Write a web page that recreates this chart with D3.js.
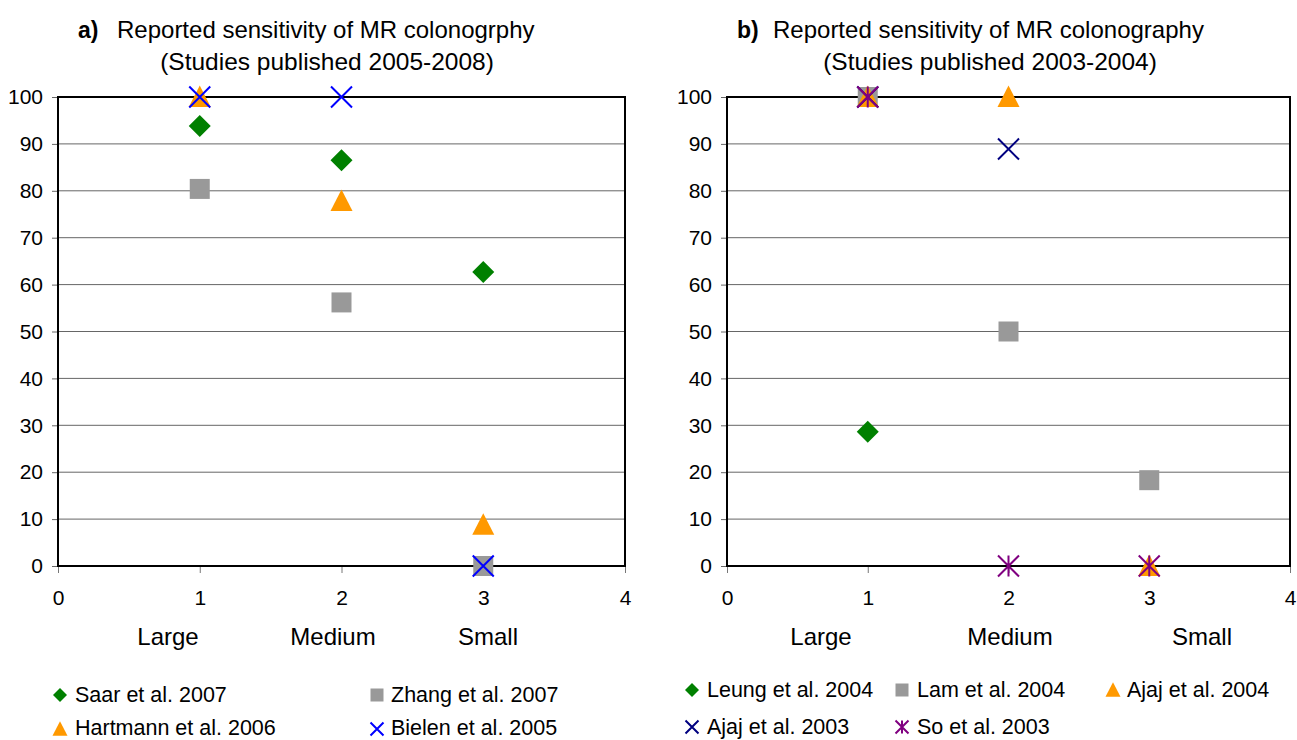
<!DOCTYPE html>
<html>
<head>
<meta charset="utf-8">
<script src="https://cdn.jsdelivr.net/npm/d3@7"></script>
<style>
  body { margin: 0; background: #fff; }
  svg { display: block; font-family: "Liberation Sans", Arial, sans-serif; }
</style>
</head>
<body>
<svg id="chart" width="1297" height="740"></svg>
<script>
// Polyp size categories on the x axis (positions 1..3)
const sizePositions = [1, 2, 3];
const sizeLabels = ["Large", "Medium", "Small"];
const xTicks = [0, 1, 2, 3, 4];
const yTicks = [0, 10, 20, 30, 40, 50, 60, 70, 80, 90, 100];

// Panel a: studies published 2005-2008 (sensitivity %, Large / Medium / Small)
const saar2007 = [93.8, 86.5, 62.7];
const zhang2007 = [80.4, 56.2, 0];
const hartmann2006 = [100, 77.8, 8.8];
const bielen2005 = [100, 100, 0];

// Panel b: studies published 2003-2004
const leung2004 = [28.6, null, null];
const lam2004 = [100, 50, 18.3];
const ajaj2004 = [100, 100, 0];
const ajaj2003 = [100, 88.9, null];
const so2003 = [100, 0, 0];

const panels = [
  {
    tag: "a)",
    title: "Reported sensitivity of MR colonogrphy",
    subtitle: "(Studies published 2005-2008)",
    left: 58, right: 625,
    tagX: 78, titleX: 117, subX: 327,
    catX: [168, 333, 488],
    series: [
      { name: "Saar et al. 2007", values: saar2007, shape: "diamond", color: "#008000" },
      { name: "Zhang et al. 2007", values: zhang2007, shape: "square", color: "#999999" },
      { name: "Hartmann et al. 2006", values: hartmann2006, shape: "triangle", color: "#FF9900" },
      { name: "Bielen et al. 2005", values: bielen2005, shape: "x", color: "#0000FF" }
    ],
    legend: [[60, 695, 75, 702], [377, 695, 391, 702], [60, 729, 75, 735], [377, 729, 391, 735]]
  },
  {
    tag: "b)",
    title: "Reported sensitivity of MR colonography",
    subtitle: "(Studies published 2003-2004)",
    left: 727, right: 1290,
    tagX: 737, titleX: 773, subX: 990,
    catX: [821, 1010, 1202],
    series: [
      { name: "Leung et al. 2004", values: leung2004, shape: "diamond", color: "#008000" },
      { name: "Lam et al. 2004", values: lam2004, shape: "square", color: "#999999" },
      { name: "Ajaj et al. 2004", values: ajaj2004, shape: "triangle", color: "#FF9900" },
      { name: "Ajaj et al. 2003", values: ajaj2003, shape: "x", color: "#000080" },
      { name: "So et al. 2003", values: so2003, shape: "asterisk", color: "#800080" }
    ],
    legend: [[692, 690, 707, 697], [902, 690, 917, 697], [1113, 690, 1127, 697],
             [692, 727, 707, 734], [902, 727, 917, 734]]
  }
];

const plotTop = 97, plotBottom = 566;
const svg = d3.select("#chart");

// Marker path builders, r = half-width
function markerPath(shape, r) {
  switch (shape) {
    case "square":
      return `M${-r},${-r}H${r}V${r}H${-r}Z`;
    case "diamond":
      return `M0,${-r}L${r},0L0,${r}L${-r},0Z`;
    case "triangle":
      return `M0,${-r * 1.05}L${r},${r * 0.9}L${-r},${r * 0.9}Z`;
    case "x":
      return `M${-r},${-r}L${r},${r}M${r},${-r}L${-r},${r}`;
    case "asterisk":
      return `M${-r},${-r}L${r},${r}M${r},${-r}L${-r},${r}M0,${-r}V${r}`;
  }
}
function drawMarker(g, shape, color, x, y, r) {
  const filled = shape === "square" || shape === "diamond" || shape === "triangle";
  g.append("path")
    .attr("transform", `translate(${x},${y})`)
    .attr("d", markerPath(shape, r))
    .attr("fill", filled ? color : "none")
    .attr("stroke", filled ? "none" : color)
    .attr("stroke-width", filled ? 0 : 2);
}
const markerSize = { square: 10, diamond: 11, triangle: 11, x: 10.5, asterisk: 10.5 };
const legendSize = { square: 6.5, diamond: 7, triangle: 7.5, x: 6.5, asterisk: 6.5 };
const fontStack = "Liberation Sans, Arial, sans-serif";

panels.forEach(p => {
  const x = d3.scaleLinear().domain([0, 4]).range([p.left, p.right]);
  const y = d3.scaleLinear().domain([0, 100]).range([plotBottom, plotTop]);
  const g = svg.append("g");

  // Titles
  g.append("text").attr("x", p.tagX).attr("y", 38).attr("font-size", 23)
    .attr("font-weight", "bold").text(p.tag);
  g.append("text").attr("x", p.titleX).attr("y", 38).attr("font-size", 24).text(p.title);
  g.append("text").attr("x", p.subX).attr("y", 70).attr("font-size", 24.5)
    .attr("text-anchor", "middle").text(p.subtitle);

  // Horizontal gridlines
  g.append("g").selectAll("line").data(yTicks.filter(v => v > 0 && v < 100)).join("line")
    .attr("x1", p.left).attr("x2", p.right)
    .attr("y1", d => y(d)).attr("y2", d => y(d))
    .attr("stroke", "#666").attr("stroke-width", 1);

  // Y axis
  const yAxis = d3.axisLeft(y).tickValues(yTicks).tickFormat(d3.format("d"))
    .tickSize(6).tickPadding(9);
  const ya = g.append("g").attr("transform", `translate(${p.left},0)`).call(yAxis);
  ya.select(".domain").remove();
  ya.selectAll(".tick line").attr("stroke", "#666");
  ya.selectAll(".tick text").attr("font-size", 21).attr("font-family", fontStack).attr("fill", "#000");

  // X axis
  const xAxis = d3.axisBottom(x).tickValues(xTicks).tickFormat(d3.format("d")).tickSize(7);
  const xa = g.append("g").attr("transform", `translate(0,${plotBottom})`).call(xAxis);
  xa.select(".domain").remove();
  xa.selectAll(".tick line").attr("stroke", "#777");
  xa.selectAll(".tick text").attr("font-size", 21).attr("font-family", fontStack)
    .attr("fill", "#000").attr("y", 39).attr("dy", 0);

  // Plot frame
  g.append("rect").attr("x", p.left).attr("y", plotTop)
    .attr("width", p.right - p.left).attr("height", plotBottom - plotTop)
    .attr("fill", "none").attr("stroke", "#000").attr("stroke-width", 2);

  // Category labels
  g.append("g").selectAll("text").data(sizeLabels).join("text")
    .attr("x", (d, i) => p.catX[i]).attr("y", 645)
    .attr("text-anchor", "middle").attr("font-size", 24).text(d => d);

  // Data markers
  const mg = g.append("g");
  p.series.forEach(s => {
    s.values.forEach((v, i) => {
      if (v === null) return;
      drawMarker(mg, s.shape, s.color, x(sizePositions[i]), y(v), markerSize[s.shape]);
    });
  });

  // Legend
  const lg = g.append("g");
  p.series.forEach((s, i) => {
    const [mx, my, tx, ty] = p.legend[i];
    drawMarker(lg, s.shape, s.color, mx, my, legendSize[s.shape]);
    lg.append("text").attr("x", tx).attr("y", ty)
      .attr("font-size", 21.5).text(s.name);
  });
});
</script>
</body>
</html>
